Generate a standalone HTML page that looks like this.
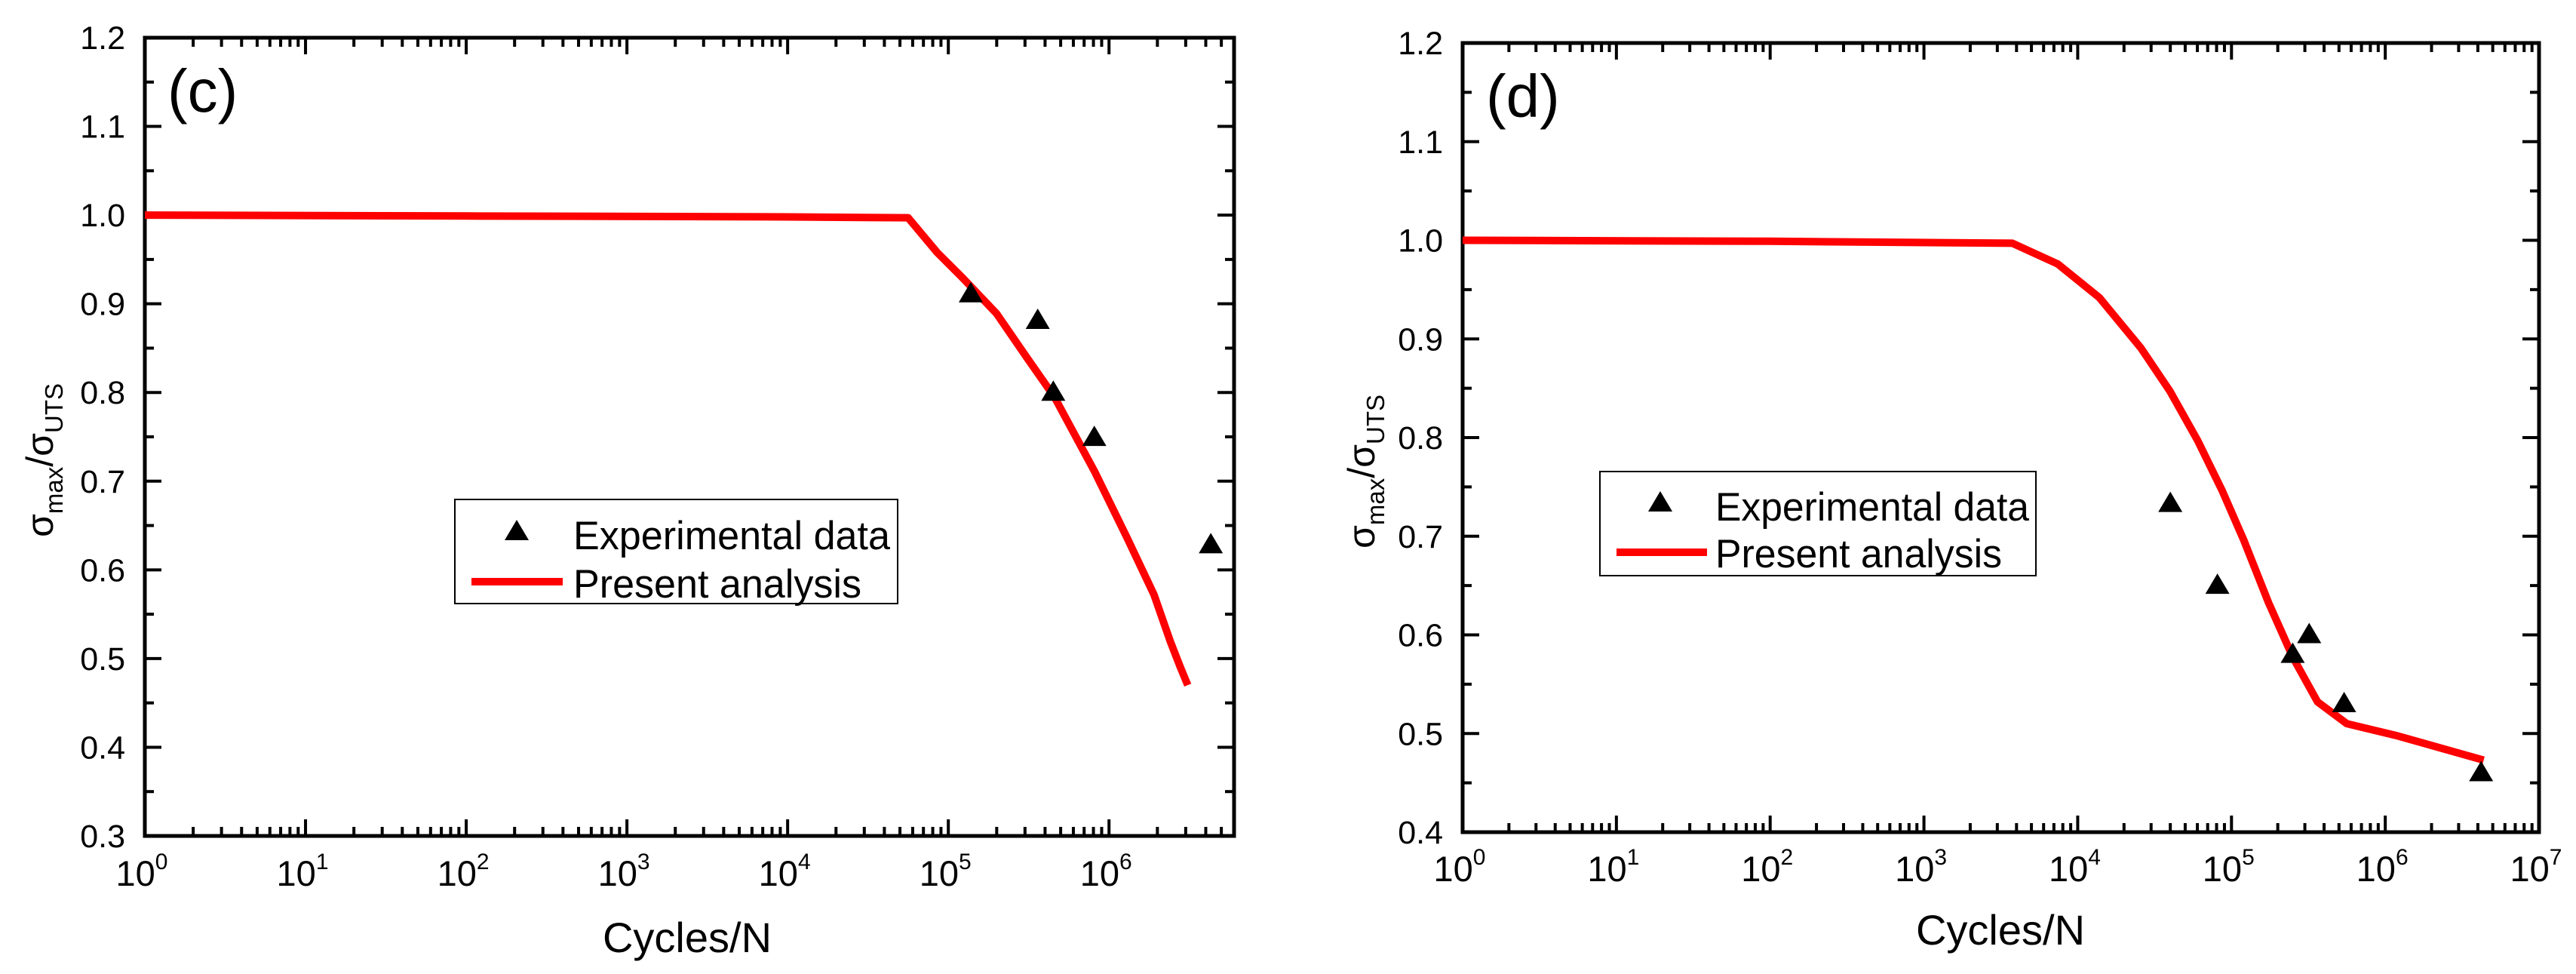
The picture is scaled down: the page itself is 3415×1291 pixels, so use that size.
<!DOCTYPE html>
<html><head><meta charset="utf-8"><style>
html,body{margin:0;padding:0;background:#fff;}
svg{display:block;font-family:"Liberation Sans",Arial,sans-serif;}
</style></head><body>
<svg id="fig" width="3415" height="1291" viewBox="0 0 3415 1291" xmlns="http://www.w3.org/2000/svg"></svg>
<script>
// Panel (c) data
const cLineLogN = [0, 2, 4, 4.75, 4.93, 5.09, 5.30, 5.49, 5.66, 5.91, 6.11, 6.28, 6.38, 6.44, 6.49];
const cLineVal  = [1.0, 0.999, 0.998, 0.997, 0.958, 0.929, 0.889, 0.839, 0.795, 0.711, 0.637, 0.572, 0.520, 0.492, 0.470];
const cExpN   = [1.38e5, 3.6e5, 4.5e5, 8.1e5, 4.3e6];
const cExpVal = [0.911, 0.881, 0.80, 0.749, 0.628];
const cYTicks = [0.3, 0.4, 0.5, 0.6, 0.7, 0.8, 0.9, 1.0, 1.1, 1.2];
const cXTicks = [0, 1, 2, 3, 4, 5, 6];
// Panel (d) data
const dLineLogN = [0, 2, 3.575, 3.87, 4.14, 4.41, 4.60, 4.78, 4.94, 5.08, 5.24, 5.40, 5.56, 5.75, 6.07, 6.64];
const dLineVal  = [1.0, 0.999, 0.997, 0.976, 0.942, 0.891, 0.847, 0.797, 0.746, 0.696, 0.633, 0.577, 0.532, 0.510, 0.498, 0.473];
const dExpN   = [4.0e4, 8.1e4, 2.5e5, 3.2e5, 5.4e5, 4.2e6];
const dExpVal = [0.733, 0.65, 0.58, 0.60, 0.53, 0.46];
const dYTicks = [0.4, 0.5, 0.6, 0.7, 0.8, 0.9, 1.0, 1.1, 1.2];
const dXTicks = [0, 1, 2, 3, 4, 5, 6, 7];

const NS = "http://www.w3.org/2000/svg";
const svg = document.getElementById('fig');
function mk(tag, attrs, parent, text){
  const e = document.createElementNS(NS, tag);
  for (const k in attrs) e.setAttribute(k, attrs[k]);
  if (text !== undefined) e.textContent = text;
  (parent || svg).appendChild(e);
  return e;
}

function panel(cfg, lineLog, lineVal, expN, expVal, yTicks, xTicks){
  const g = mk('g', {});
  
  
  const X = v => cfg.x0 + v * (cfg.x1 - cfg.x0) / cfg.logMax;
  const Y = v => cfg.y1 - (v - cfg.yMin) * (cfg.y1 - cfg.y0) / (cfg.yMax - cfg.yMin);
  const tg = mk('g', {stroke:'#000','stroke-width':4}, g);
  
  
  for (let d = 0; d < Math.ceil(cfg.logMax); d++){
    for (let m = 1; m <= 10; m++){
      const lv = d + Math.log10(m);
      if (lv > cfg.logMax + 1e-9) continue;
      if (m === 1 && d > 0) continue;
      const L = (m === 1 || m === 10) ? 22 : 12;
      const x = X(lv);
      mk('line', {x1:x, y1:cfg.y1, x2:x, y2:cfg.y1 - L}, tg);
      mk('line', {x1:x, y1:cfg.y0, x2:x, y2:cfg.y0 + L}, tg);
    }
  }
  for (let v = cfg.yMin; v <= cfg.yMax + 1e-9; v += 0.05){
    const major = Math.abs(Math.round(v*10) - v*10) < 1e-6;
    const L = major ? 22 : 12;
    const y = Y(v);
    mk('line', {x1:cfg.x0, y1:y, x2:cfg.x0 + L, y2:y}, tg);
    mk('line', {x1:cfg.x1, y1:y, x2:cfg.x1 - L, y2:y}, tg);
  }
  const fr = mk('rect', {x:cfg.x0, y:cfg.y0, width:cfg.x1-cfg.x0, height:cfg.y1-cfg.y0, fill:'none', stroke:'#000', 'stroke-width':5}, g);
  
  
  yTicks.forEach(v => {
    const t = mk('text', {x:cfg.x0 - 26, y:Y(v) + 15, 'font-size':43, 'text-anchor':'end'}, g, v.toFixed(1));
    
    
  });
  xTicks.forEach(d => {
    const t = mk('text', {x:X(d) - 4, y:cfg.xLabY, 'font-size':47, 'text-anchor':'middle'}, g);
    
    
    mk('tspan', {}, t, '10');
    mk('tspan', {'font-size':30, dy:-22}, t, String(d));
  });
  const xt = mk('text', {x:cfg.xTitleX, y:cfg.xTitleY, 'font-size':56, 'text-anchor':'middle'}, g, 'Cycles/N');
  
  
  const yt = mk('text', {x:0, y:0, 'font-size':50, 'text-anchor':'middle', transform:`translate(${cfg.yTitleX},${cfg.yTitleY}) rotate(-90)`}, g);
  
  
  mk('tspan', {}, yt, 'σ');
  mk('tspan', {'font-size':33, dy:13}, yt, 'max');
  mk('tspan', {dy:-13}, yt, '/σ');
  mk('tspan', {'font-size':33, dy:13}, yt, 'UTS');
  const pl = mk('text', {x:cfg.labX, y:cfg.labY, 'font-size':80}, g, cfg.label);
  
  
  const pts = lineLog.map((l, i) => X(l) + ',' + Y(lineVal[i])).join(' ');
  const pline = mk('polyline', {points:pts, fill:'none', stroke:'#ff0000', 'stroke-width':10, 'stroke-linejoin':'round'}, g);
  
  
  expN.forEach((n, i) => {
    const x = X(Math.log10(n)), y = Y(expVal[i]);
    const tri = mk('polygon', {points:`${x-16},${y+11} ${x+16},${y+11} ${x},${y-16}`, fill:'#000'}, g);
    
    
  });
  const lg = mk('g', {}, g);
  
  
  const L = cfg.leg;
  mk('rect', {x:L.x0, y:L.y0, width:L.x1-L.x0, height:L.y1-L.y0, fill:'#fff', stroke:'#000', 'stroke-width':2}, lg);
  const e1 = mk('g', {}, lg);
  
  
  mk('polygon', {points:`${L.mx-16},${L.my1+11} ${L.mx+16},${L.my1+11} ${L.mx},${L.my1-16}`, fill:'#000'}, e1);
  mk('text', {x:L.tx, y:L.b1, 'font-size':53, textLength:L.tw1, lengthAdjust:'spacingAndGlyphs'}, e1, 'Experimental data');
  const e2 = mk('g', {}, lg);
  
  
  mk('line', {x1:L.lx0, y1:L.ly, x2:L.lx1, y2:L.ly, stroke:'#ff0000', 'stroke-width':10}, e2);
  mk('text', {x:L.tx, y:L.b2, 'font-size':53, textLength:L.tw2, lengthAdjust:'spacingAndGlyphs'}, e2, 'Present analysis');
}

panel({name:'panel-c', x0:192, x1:1636, y0:50, y1:1108, logMax:Math.log10(6e6), yMin:0.3, yMax:1.2,
  xLabY:1174, xTitleX:911, xTitleY:1262, yTitleX:70, yTitleY:610, label:'(c)', labX:222, labY:148,
  leg:{x0:603, x1:1190, y0:662, y1:800, mx:685, my1:705, tx:760, b1:728, b2:792, lx0:625, lx1:746, ly:771, tw1:420, tw2:382}},
  cLineLogN, cLineVal, cExpN, cExpVal, cYTicks, cXTicks);

panel({name:'panel-d', x0:1939, x1:3366, y0:57, y1:1103, logMax:7, yMin:0.4, yMax:1.2,
  xLabY:1168, xTitleX:2652, xTitleY:1252, yTitleX:1822, yTitleY:625, label:'(d)', labX:1970, labY:155,
  leg:{x0:2121, x1:2699, y0:625, y1:763, mx:2201, my1:667, tx:2274, b1:690, b2:752, lx0:2143, lx1:2263, ly:732, tw1:416, tw2:380}},
  dLineLogN, dLineVal, dExpN, dExpVal, dYTicks, dXTicks);
</script>
</body></html>
